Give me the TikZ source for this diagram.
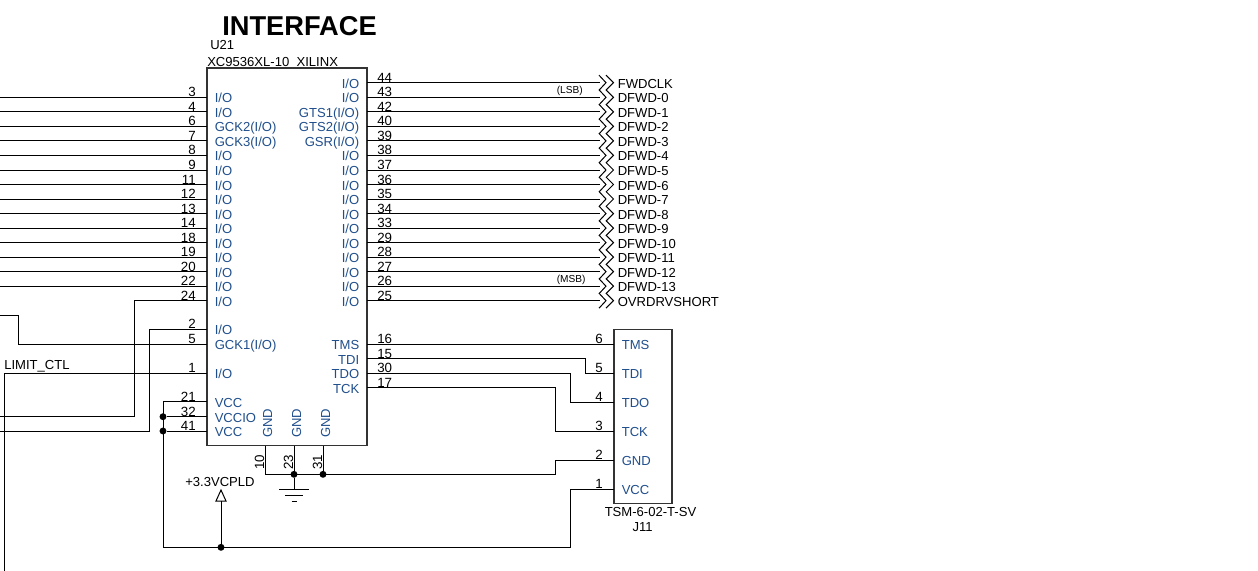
\documentclass[tikz,border=0pt]{standalone}
\usepackage{fontspec}
\usepackage{xcolor}
\usepackage{tikz}
\setmainfont{Liberation Sans}
\definecolor{pinblue}{RGB}{31,78,140}
\tikzset{
  wire/.style={line width=0.75pt,black},
  outline/.style={line width=1pt,draw=black!80},
  pinnum/.style={inner sep=0pt,font=\fontsize{10}{10}\selectfont},
  pinname/.style={inner sep=0pt,text=pinblue,font=\fontsize{9.8}{10}\selectfont},
  plainlabel/.style={inner sep=0pt,font=\fontsize{9.8}{10}\selectfont},
  smalllabel/.style={inner sep=0pt,font=\fontsize{7.6}{8}\selectfont},
  dot/.style={circle,fill=black,inner sep=0pt,minimum size=5.2pt}
}
\begin{document}
\begin{tikzpicture}[x=0.75pt,y=-0.75pt]
            \useasboundingbox (0,0) rectangle (1258,571);

            % title and chip
            \node[inner sep=0pt,anchor=base west,font=\bfseries\fontsize{20.45}{22}\selectfont] (title) at (222,35.5) {INTERFACE};
            \node[plainlabel,anchor=base west] (refU) at (210,50) {U21};
            \node[plainlabel,anchor=base west] (partU) at (207,66) {XC9536XL-10\ \ XILINX};
            \coordinate (chipNW) at (207,68);
            \coordinate (chipSE) at (367,445.7);
            \draw[outline] (chipNW) rectangle (chipSE);

            % left side pins, wires run off the page
            \foreach \num/\row/\name in {3/97.3/I\slash O,4/111.8/I\slash O,6/126.4/GCK2(I\slash O),7/140.9/GCK3(I\slash O),8/155.4/I\slash O,9/170/I\slash O,11/184.5/I\slash O,12/199/I\slash O,13/213.6/I\slash O,14/228.1/I\slash O,18/242.6/I\slash O,19/257.2/I\slash O,20/271.7/I\slash O,22/286.2/I\slash O,24/300.7/I\slash O,2/329.3/I\slash O,5/344/GCK1(I\slash O),1/373.3/I\slash O,21/401.7/VCC,32/416.7/VCCIO,41/431/VCC} {
                \coordinate (L\num) at (207,\row);
                \coordinate (Lin\num) at (196,\row-0.5);
                \node[pinnum,anchor=base east] (numL\num) at (Lin\num) {\num};
                \node[pinname,anchor=base west] (nameL\num) at (214.5,\row+5.5) {\name};
            }
            \foreach \num in {3,4,6,7,8,9,11,12,13,14,18,19,20,22} {
                \coordinate (off\num) at (L\num -| 0,0);
                \draw[wire] (L\num) -- (off\num);
            }

            % right side pins to the off page flags
            \foreach \num/\row/\name/\flag in {44/82.7/I\slash O/FWDCLK,43/97.3/I\slash O/DFWD-0,42/111.8/GTS1(I\slash O)/DFWD-1,40/126.4/GTS2(I\slash O)/DFWD-2,39/140.9/GSR(I\slash O)/DFWD-3,38/155.4/I\slash O/DFWD-4,37/170/I\slash O/DFWD-5,36/184.5/I\slash O/DFWD-6,35/199/I\slash O/DFWD-7,34/213.6/I\slash O/DFWD-8,33/228.1/I\slash O/DFWD-9,29/242.6/I\slash O/DFWD-10,28/257.2/I\slash O/DFWD-11,27/271.7/I\slash O/DFWD-12,26/286.2/I\slash O/DFWD-13,25/300.7/I\slash O/OVRDRVSHORT} {
                \coordinate (R\num) at (367,\row);
                \coordinate (F\num) at (600,\row);
                \draw[wire] (R\num) -- (F\num);
                \draw[wire] (599,\row-7.5) -- (606,\row) -- (599,\row+7.5);
                \draw[wire] (606,\row-7.5) -- (613.5,\row) -- (606,\row+7.5);
                \node[pinnum,anchor=base west] (numR\num) at (377,\row-0.5) {\num};
                \node[pinname,anchor=base east] (nameR\num) at (359.5,\row+5.5) {\name};
                \node[plainlabel,anchor=base west] (flag\num) at (617.5,\row+5.5) {\flag};
            }
            \node[smalllabel,anchor=base west] (lsb) at (556.5,93) {(LSB)};
            \node[smalllabel,anchor=base west] (msb) at (556.5,282.5) {(MSB)};

            % jtag pins of the chip
            \foreach \num/\row/\name in {16/344/TMS,15/358.6/TDI,30/373.3/TDO,17/387.8/TCK} {
                \coordinate (R\num) at (367,\row);
                \node[pinnum,anchor=base west] (numR\num) at (377,\row-0.5) {\num};
                \node[pinname,anchor=base east] (nameR\num) at (359.5,\row+5.5) {\name};
            }

            % header
            \coordinate (hdrNW) at (614,329.3);
            \coordinate (hdrSE) at (672,503.3);
            \draw[outline] (hdrNW) rectangle (hdrSE);
            \foreach \num/\row/\name in {6/344/TMS,5/373.3/TDI,4/402.3/TDO,3/431.3/TCK,2/460.3/GND,1/489.3/VCC} {
                \coordinate (J\num) at (614,\row);
                \node[pinnum,anchor=base east] (numJ\num) at (603,\row-0.5) {\num};
                \node[pinname,anchor=base west] (nameJ\num) at (621.5,\row+5.5) {\name};
            }
            \node[plainlabel,anchor=base] (partJ) at (650.5,516) {TSM-6-02-T-SV};
            \node[plainlabel,anchor=base] (refJ) at (642.7,531) {J11};

            \draw[wire] (R16) -- (J6);
            \draw[wire] (R15) -- (585,358.6) -- (585,373.3) -- (J5);
            \draw[wire] (R30) -- (570,373.3) -- (570,402.3) -- (J4);
            \draw[wire] (R17) -- (555.7,387.8) -- (555.7,431.3) -- (J3);

            % wires that leave the page on the left
            \coordinate (off24) at (0,416.7);
            \coordinate (off2) at (0,431);
            \coordinate (off5) at (0,315);
            \coordinate (off1) at (4,571);
            \draw[wire] (L24) -- (134,300.7) -- (134,416.7) -- (off24);
            \draw[wire] (L2) -- (149,329.3) -- (149,431) -- (off2);
            \draw[wire] (L5) -- (18,344) -- (18,315) -- (off5);
            \draw[wire] (L1) -- (4,373.3) -- (off1);
            \node[plainlabel,anchor=base west] (limit) at (4,369) {LIMIT\_CTL};

            % chip grounds
            \foreach \num/\col/\txt in {10/265/272,23/294/301,31/323/330} {
                \coordinate (G\num) at (\col,445.7);
                \coordinate (GB\num) at (\col,474.3);
                \draw[wire] (G\num) -- (GB\num);
                \node[pinnum,rotate=90,anchor=base west] (numG\num) at (\col-0.8,470) {\num};
                \node[pinname,rotate=90,anchor=base west] (nameG\num) at (\txt,438) {GND};
            }
            \draw[wire] (GB10) -- (555.7,474.3) -- (555.7,460.3) -- (J2);
            \node[dot] (dotG23) at (GB23) {};
            \node[dot] (dotG31) at (GB31) {};
            \coordinate (gnd) at (294,489.3);
            \draw[wire] (dotG23) -- (gnd);
            \draw[wire] (279,489.3) -- (309,489.3);
            \draw[wire] (285,495.5) -- (303,495.5);
            \draw[wire] (291.5,501.7) -- (296.5,501.7);

            % supply
            \node[dot] (dotV) at (221,547.3) {};
            \node[dot] (dot32) at (163,416.7) {};
            \node[dot] (dot41) at (163,431) {};
            \coordinate (arrowBase) at (221,501);
            \draw[wire] (L21) -- (163,401.7) -- (163,547.3) -- (570,547.3) -- (570,489.3) -- (J1);
            \draw[wire] (L32) -- (dot32);
            \draw[wire] (L41) -- (dot41);
            \draw[wire] (dotV) -- (arrowBase);
            \draw[wire] (216,501) -- (221,490) -- (226,501) -- cycle;
            \node[plainlabel,anchor=base west] (rail) at (185,486.7) {+3.3VCPLD};
        \end{tikzpicture}
\end{document}
